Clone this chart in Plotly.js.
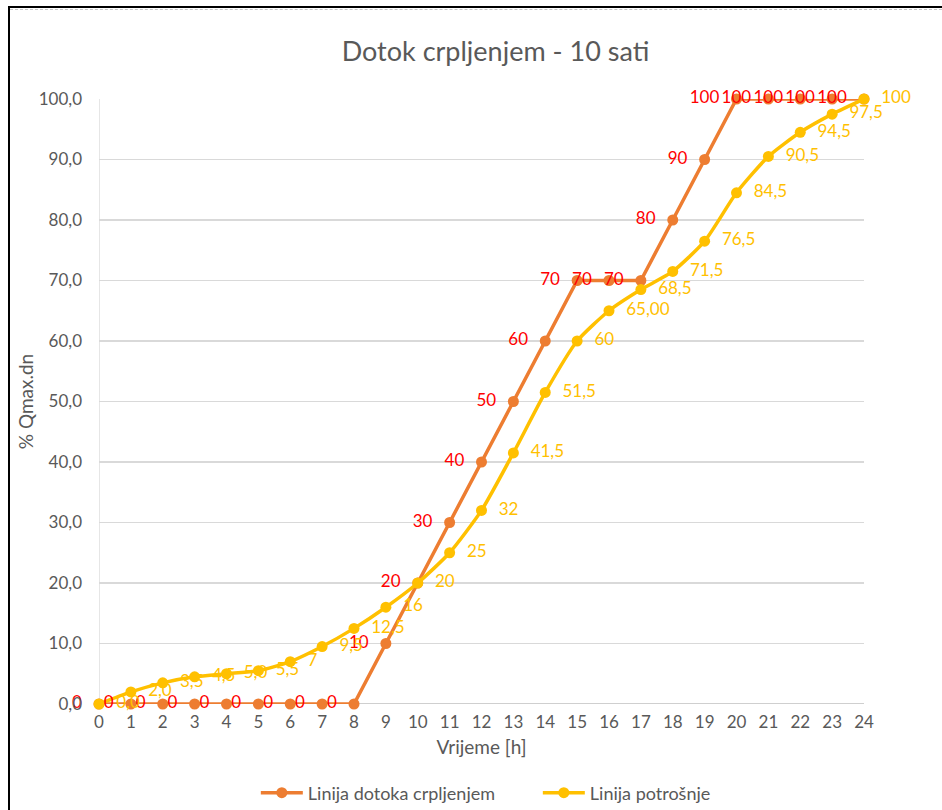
<!DOCTYPE html>
<html>
<head>
<meta charset="utf-8">
<script src="https://cdn.plot.ly/plotly-3.0.1.min.js"></script>
<style>
  html, body { margin: 0; padding: 0; background: #fff; }
  #chart { width: 942px; height: 810px; position: absolute; left: 0; top: 0; }
  #frame { position: absolute; left: 8px; top: 6px; width: 940px; height: 810px;
           border-left: 2px solid #000; border-top: 2px solid #000; pointer-events: none; }
  #dash { position: absolute; left: 10px; top: 9px; width: 932px; height: 0;
          border-top: 1px dashed #c8c8c8; pointer-events: none; }
</style>
</head>
<body>
<div id="chart"></div>
<div id="frame"></div>
<div id="dash"></div>
<script>
// ---- data ----
const hours = [0,1,2,3,4,5,6,7,8,9,10,11,12,13,14,15,16,17,18,19,20,21,22,23,24];
const inflow = [0,0,0,0,0,0,0,0,0,10,20,30,40,50,60,70,70,70,80,90,100,100,100,100,100];
const consumption = [0,2.0,3.5,4.5,5.0,5.5,7,9.5,12.5,16,20,25,32,41.5,51.5,60,65,68.5,71.5,76.5,84.5,90.5,94.5,97.5,100];
const inflowLabels = ["0","0","0","0","0","0","0","0","0","10","20","30","40","50","60","70","70","70","80","90","100","100","100","100","100"];
const consumptionLabels = ["0,0","2,0","3,5","4,5","5,0","5,5","7","9,5","12,5","16","20","25","32","41,5","51,5","60","65,00","68,5","71,5","76,5","84,5","90,5","94,5","97,5","100"];
const seriesNames = ["Linija dotoka crpljenjem", "Linija potrošnje"];
const titleText = "Dotok crpljenjem - 10 sati";
const xTitle = "Vrijeme [h]";
const yTitle = "% Qmax.dn";

const FONT = "Lato, 'Open Sans', sans-serif";
const GRAY = "#595959";
const ORANGE = "#ED7D31";
const YELLOW = "#FFC000";

const traces = [
  { x: hours, y: inflow, name: seriesNames[0], type: "scatter", mode: "lines+markers",
    line: { color: ORANGE, width: 3.5 }, marker: { color: ORANGE, size: 11 },
    cliponaxis: false, hoverinfo: "x+y" },
  { x: hours, y: consumption, name: seriesNames[1], type: "scatter", mode: "lines+markers",
    line: { color: YELLOW, width: 3.5, shape: "spline", smoothing: 0.6 }, marker: { color: YELLOW, size: 11 },
    cliponaxis: false, hoverinfo: "x+y" },
  { x: hours, y: inflow, text: inflowLabels, type: "scatter", mode: "markers+text",
    textposition: "middle left", marker: { size: 26, opacity: 0 },
    textfont: { family: FONT, size: 17, color: "#FF0000" }, showlegend: false,
    cliponaxis: false, hoverinfo: "skip" },
  { x: hours, y: consumption, text: consumptionLabels, type: "scatter", mode: "markers+text",
    textposition: "middle right", marker: { size: 26, opacity: 0 },
    textfont: { family: FONT, size: 17, color: YELLOW }, showlegend: false,
    cliponaxis: false, hoverinfo: "skip" }
];

const layout = {
  width: 942, height: 810,
  paper_bgcolor: "rgba(0,0,0,0)", plot_bgcolor: "#fff",
  separators: ",.",
  margin: { l: 99, r: 78, t: 99, b: 106, autoexpand: false },
  font: { family: FONT, color: GRAY, size: 17 },
  title: { text: titleText, x: 0.526, xref: "container", xanchor: "center",
           y: 1 - 52 / 810, yref: "container", yanchor: "middle",
           font: { family: FONT, size: 27, color: GRAY } },
  xaxis: {
    range: [0, 24], tickmode: "array", tickvals: hours, ticktext: hours.map(String),
    showgrid: false, zeroline: false, showline: false, ticks: "",
    tickfont: { family: FONT, size: 17, color: GRAY }, ticklabelstandoff: 6,
    title: { text: xTitle, font: { family: FONT, size: 19, color: GRAY }, standoff: 9 },
    automargin: false, fixedrange: true
  },
  yaxis: {
    range: [0, 100], dtick: 10, tick0: 0, tickformat: ".1f",
    showgrid: true, gridcolor: "#d9d9d9", gridwidth: 1.3, zeroline: false,
    showline: false, ticks: "", ticklabelstandoff: 16,
    tickfont: { family: FONT, size: 17, color: GRAY },
    title: { text: yTitle, font: { family: FONT, size: 19, color: GRAY }, standoff: 0 },
    automargin: false, fixedrange: true
  },
  shapes: [
    { type: "line", xref: "x", yref: "y", x0: 0, x1: 0, y0: 0, y1: 100,
      line: { color: "#d9d9d9", width: 1.3 }, layer: "below" },
    { type: "line", xref: "x", yref: "y", x0: 0, x1: 24, y0: 0, y1: 0,
      line: { color: "#bfbfbf", width: 1.3 }, layer: "below" }
  ],
  showlegend: true,
  legend: { orientation: "h", x: 0.205, xanchor: "left", y: -0.147, yanchor: "middle",
            entrywidth: 225, entrywidthmode: "pixels", itemwidth: 42,
            font: { family: FONT, size: 18, color: GRAY }, bgcolor: "rgba(0,0,0,0)" },
  hovermode: false
};

Plotly.newPlot("chart", traces, layout, { displayModeBar: false, staticPlot: true });
</script>
</body>
</html>
